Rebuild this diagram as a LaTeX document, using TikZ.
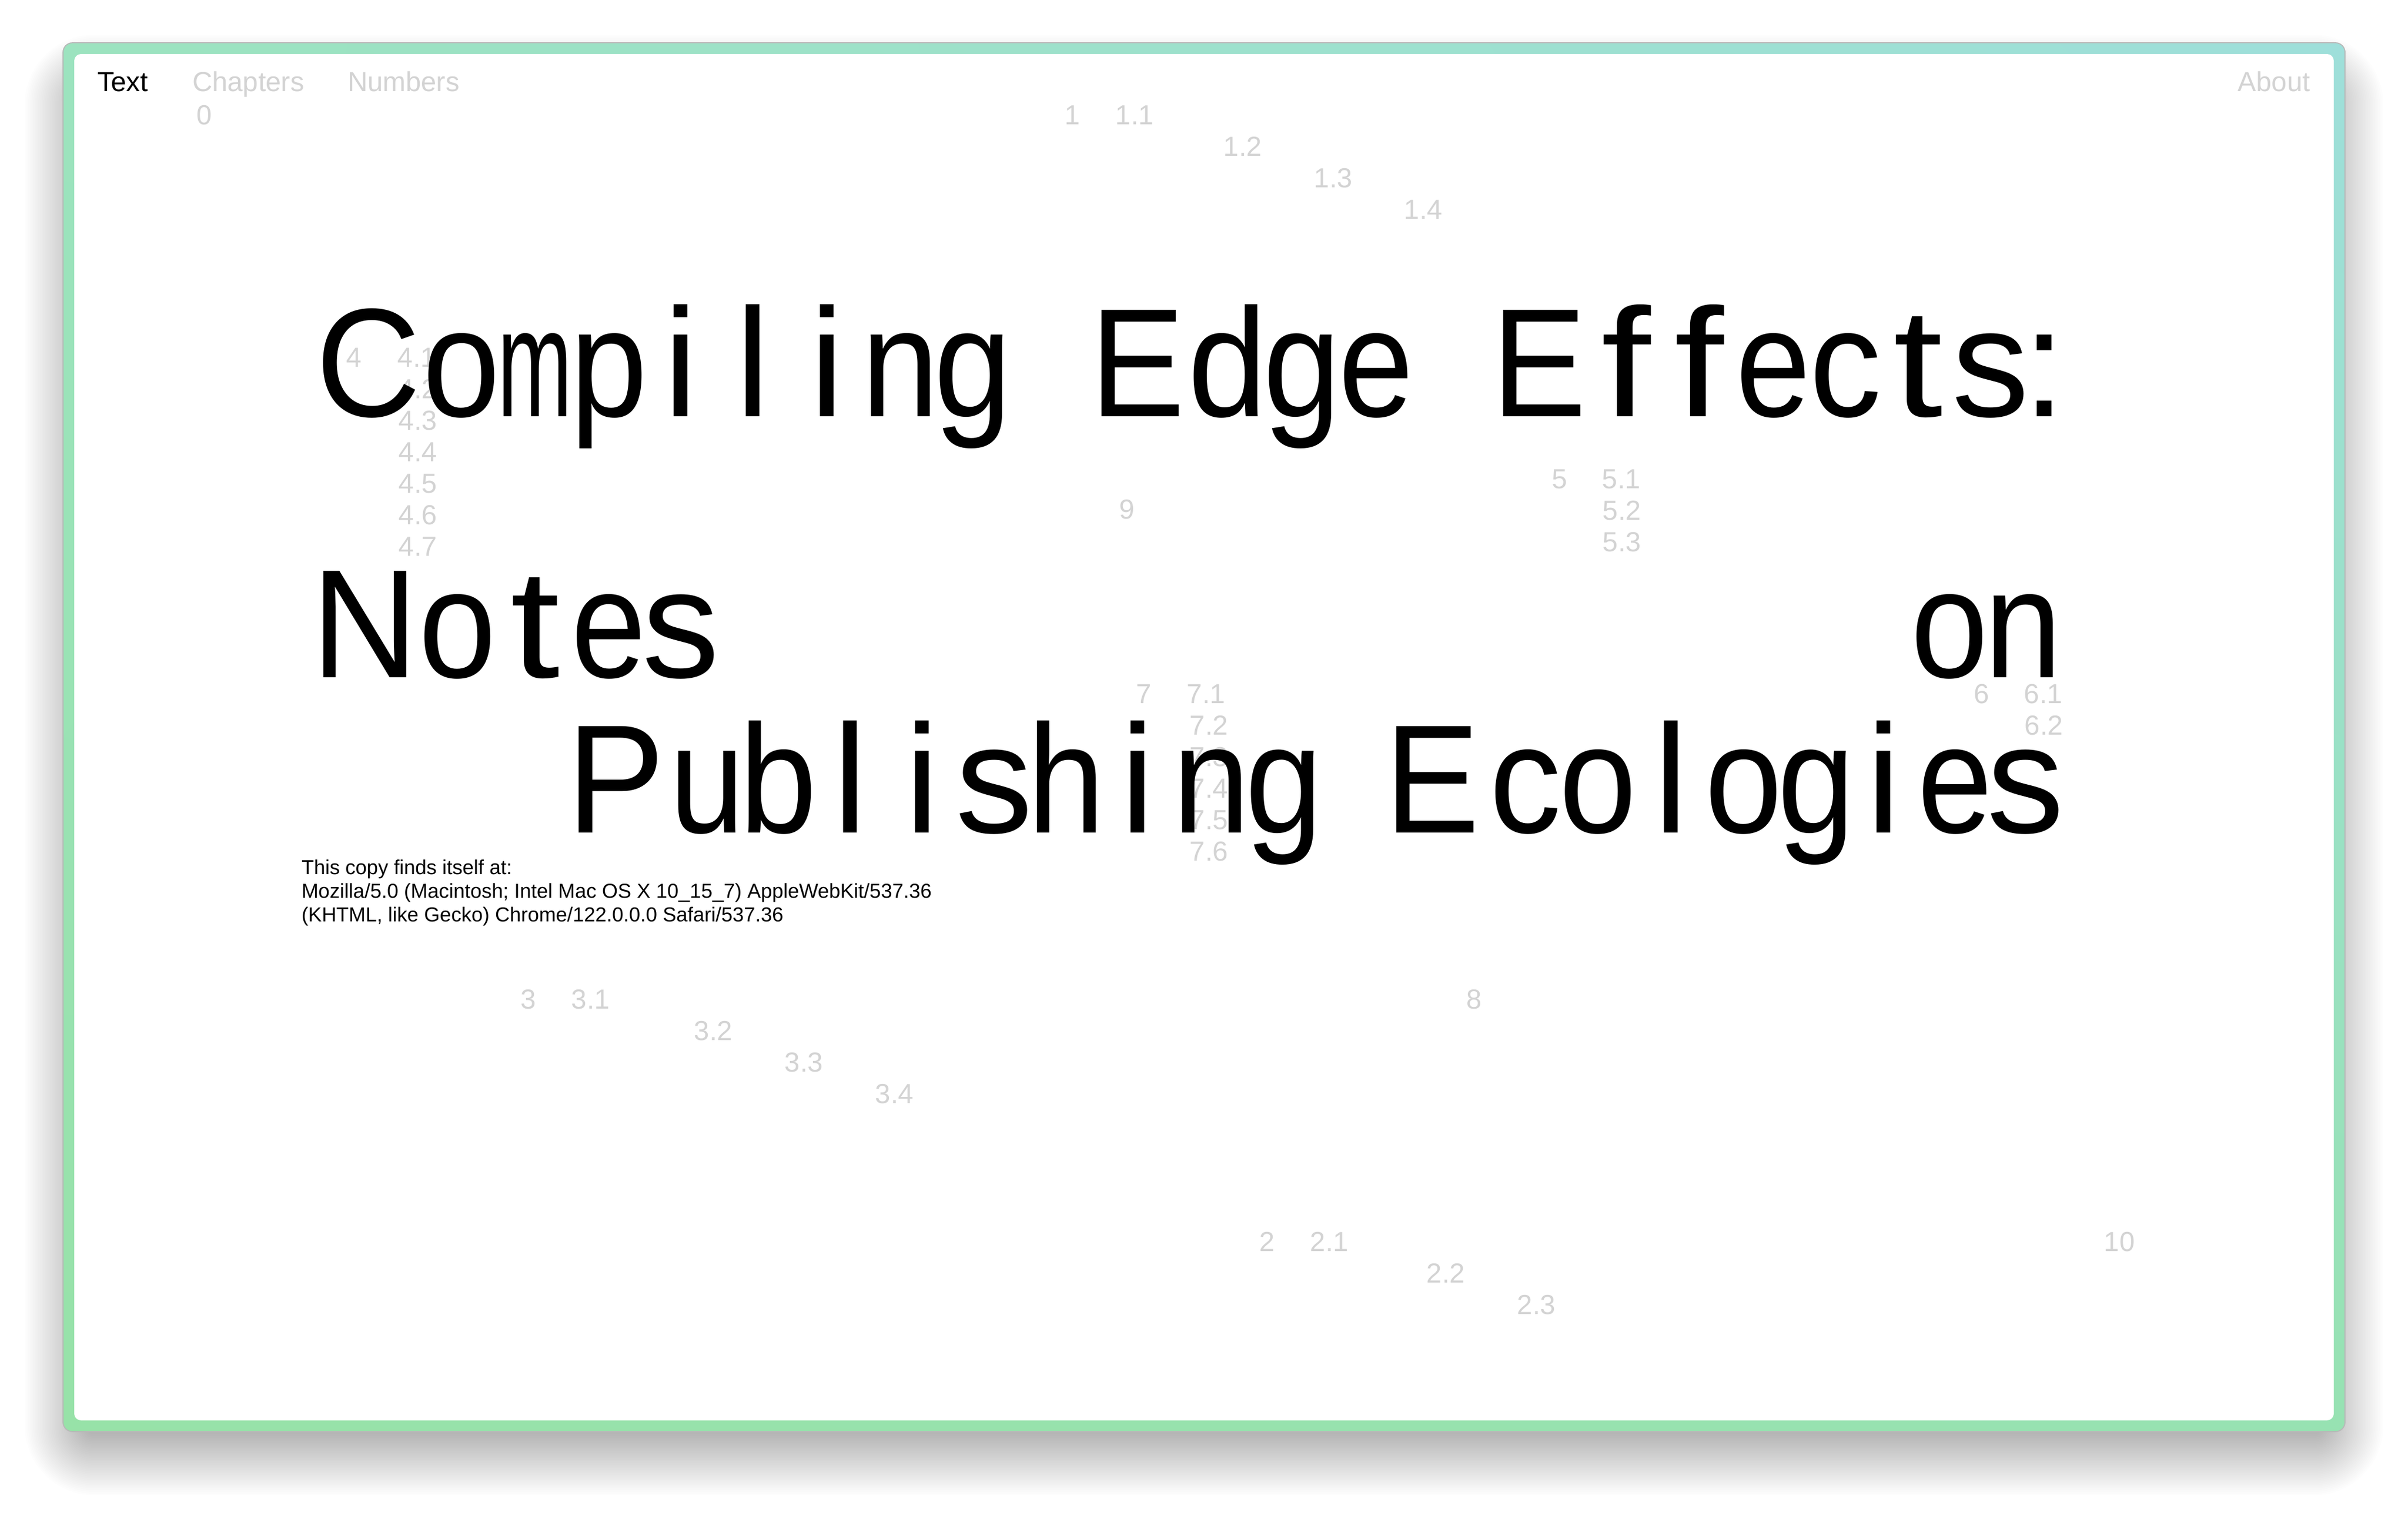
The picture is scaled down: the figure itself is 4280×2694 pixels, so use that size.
\documentclass[tikz,border=0pt]{standalone}
\usepackage{fontspec}
\usepackage{graphicx}
\usetikzlibrary{shadings}
\setmainfont{Liberation Sans}
\newfontfamily\lsans{Liberation Sans}
\definecolor{numgray}{HTML}{D3D3D3}
\definecolor{frUL}{HTML}{9CE3BF}
\definecolor{frUR}{HTML}{9EDFDA}
\definecolor{frLL}{HTML}{97E2A8}
\definecolor{frLR}{HTML}{97E2B2}
\newcommand\titlefnt{\lsans\fontsize{55pt}{60pt}\selectfont}
\newcommand\menufnt{\lsans\fontsize{9.8pt}{11pt}\selectfont}
\newcommand\bodyfnt{\lsans\fontsize{7.2pt}{8.4pt}\selectfont}
\newcommand\tch[5]{\node[titlech] (#1) at (#2,#3) {\scalebox{#4}[1]{#5}};}
\tikzset{
  titlech/.style={font=\titlefnt, text=black, anchor=base, inner sep=0pt, outer sep=0pt},
  numlab/.style={font=\menufnt, text=numgray, anchor=base, inner sep=0pt},
  menulab/.style={font=\menufnt, anchor=base west, inner sep=0pt},
  bodylab/.style={font=\bodyfnt, text=black, anchor=base west, inner sep=0pt},
}
\begin{document}
\begin{tikzpicture}[x=0.2pt,y=-0.2pt]
\useasboundingbox (0,0) rectangle (4280,2694);
\fill[white] (0,0) rectangle (4280,2694);
% soft drop shadow
\foreach \e in {0,3,...,108}{
  \fill[black,opacity=0.0095,rounded corners={3pt+0.2pt*\e}]
    ({152-\e},{170-\e}) rectangle ({4128+\e},{2550+\e});
}
% frame
\shade[rounded corners=3.4pt, upper left=frUL, upper right=frUR, lower left=frLL, lower right=frLR]
  (112,76) rectangle (4168,2545);
\draw[black!28, line width=0.35pt, rounded corners=3.4pt] (112,76) rectangle (4168,2545);
\fill[white, rounded corners=2.4pt] (132,96) rectangle (4148,2525);
% menu
\node[menulab, text=black] (mText) at (172,162) {Text};
\node[menulab, text=numgray] (mChap) at (341,162) {Chapters};
\node[menulab, text=numgray] (mNum) at (617,162) {Numbers};
\node[menulab, text=numgray, anchor=base east] (mAbout) at (4107,162) {About};
% numbers
\node[numlab] (n0) at (363,221) {0};
\node[numlab] (n1) at (1906,221) {1};
\node[numlab] (n11) at (2017,221) {1.1};
\node[numlab] (n12) at (2209,277) {1.2};
\node[numlab] (n13) at (2370,333) {1.3};
\node[numlab] (n14) at (2530,389) {1.4};
\node[numlab] (n4) at (629,652) {4};
\node[numlab] (n41) at (741,652) {4.1};
\node[numlab] (n42) at (743,708) {4.2};
\node[numlab] (n43) at (743,764) {4.3};
\node[numlab] (n44) at (743,820) {4.4};
\node[numlab] (n45) at (743,876) {4.5};
\node[numlab] (n46) at (743,932) {4.6};
\node[numlab] (n47) at (743,988) {4.7};
\node[numlab] (n9) at (2003,922) {9};
\node[numlab] (n5) at (2772,868) {5};
\node[numlab] (n51) at (2882,868) {5.1};
\node[numlab] (n52) at (2883,924) {5.2};
\node[numlab] (n53) at (2883,980) {5.3};
\node[numlab] (n7) at (2033,1250) {7};
\node[numlab] (n71) at (2144,1250) {7.1};
\node[numlab] (n72) at (2149,1306) {7.2};
\node[numlab] (n73) at (2149,1362) {7.3};
\node[numlab] (n74) at (2149,1418) {7.4};
\node[numlab] (n75) at (2149,1474) {7.5};
\node[numlab] (n76) at (2149,1530) {7.6};
\node[numlab] (n6) at (3522,1250) {6};
\node[numlab] (n61) at (3632,1250) {6.1};
\node[numlab] (n62) at (3633,1306) {6.2};
\node[numlab] (n3) at (939,1793) {3};
\node[numlab] (n31) at (1050,1793) {3.1};
\node[numlab] (n32) at (1268,1849) {3.2};
\node[numlab] (n33) at (1429,1905) {3.3};
\node[numlab] (n34) at (1590,1961) {3.4};
\node[numlab] (n8) at (2620,1793) {8};
\node[numlab] (n2) at (2252,2224) {2};
\node[numlab] (n21) at (2363,2224) {2.1};
\node[numlab] (n22) at (2570,2280) {2.2};
\node[numlab] (n23) at (2731,2336) {2.3};
\node[numlab] (n10) at (3767,2224) {10};
% title line 1
\tch{a1}{655}{740}{0.94}{C}
\tch{a2}{820}{740}{0.9}{o}
\tch{a3}{951}{740}{0.58}{m}
\tch{a4}{1082}{740}{0.9}{p}
\tch{a5}{1210}{740}{1}{i}
\tch{a6}{1338}{740}{1}{l}
\tch{a7}{1470}{740}{1}{i}
\tch{a8}{1600}{740}{0.9}{n}
\tch{a9}{1729}{740}{0.9}{g}
\tch{a10}{2022}{740}{0.92}{E}
\tch{a11}{2182}{740}{0.92}{d}
\tch{a12}{2314}{740}{0.9}{g}
\tch{a13}{2446}{740}{0.87}{e}
\tch{a14}{2736}{740}{0.92}{E}
\tch{a15}{2890}{740}{1.15}{f}
\tch{a16}{3020}{740}{1.15}{f}
\tch{a17}{3152}{740}{0.87}{e}
\tch{a18}{3280}{740}{0.93}{c}
\tch{a19}{3409}{740}{1.15}{t}
\tch{a20}{3538}{740}{1}{s}
\tch{a21}{3634}{740}{1}{:}
% title line 2
\tch{b1}{649}{1204}{0.96}{N}
\tch{b2}{813}{1204}{0.9}{o}
\tch{b3}{951}{1204}{1.15}{t}
\tch{b4}{1082}{1204}{0.87}{e}
\tch{b5}{1210}{1204}{1}{s}
\tch{b6}{3465}{1204}{0.9}{o}
\tch{b7}{3596}{1204}{0.9}{n}
% title line 3
\tch{c1}{1095}{1480}{0.95}{P}
\tch{c2}{1257}{1480}{0.87}{u}
\tch{c3}{1383}{1480}{0.9}{b}
\tch{c4}{1511}{1480}{1}{l}
\tch{c5}{1639}{1480}{1}{i}
\tch{c6}{1767}{1480}{1}{s}
\tch{c7}{1895}{1480}{0.9}{h}
\tch{c8}{2022}{1480}{1}{i}
\tch{c9}{2153}{1480}{0.9}{n}
\tch{c10}{2282}{1480}{0.9}{g}
\tch{c11}{2546}{1480}{0.92}{E}
\tch{c12}{2711}{1480}{0.93}{c}
\tch{c13}{2840}{1480}{0.9}{o}
\tch{c14}{2970}{1480}{1}{l}
\tch{c15}{3099}{1480}{0.9}{o}
\tch{c16}{3228}{1480}{0.9}{g}
\tch{c17}{3348}{1480}{1}{i}
\tch{c18}{3475}{1480}{0.87}{e}
\tch{c19}{3600}{1480}{1}{s}
% user agent text
\node[bodylab] (ua1) at (535,1554) {This copy finds itself at:};
\node[bodylab] (ua2) at (535,1596) {Mozilla/5.0 (Macintosh; Intel Mac OS X 10\_15\_7) AppleWebKit/537.36};
\node[bodylab] (ua3) at (535,1638) {(KHTML, like Gecko) Chrome/122.0.0.0 Safari/537.36};
\end{tikzpicture}
\end{document}
